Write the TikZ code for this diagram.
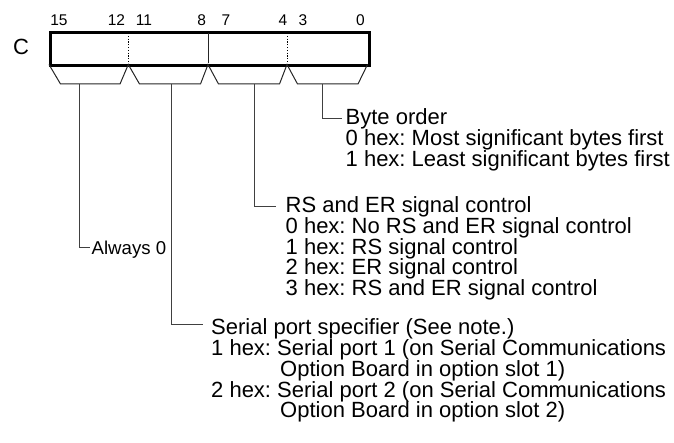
\documentclass[tikz,border=0pt]{standalone}
\usepackage{fontspec}
\setmainfont{Liberation Sans}
\frenchspacing
\begin{document}
\begin{tikzpicture}[x=1bp,y=-1bp,
  txt/.style={anchor=base west, inner sep=0pt, font=\fontsize{22bp}{20.7bp}\selectfont},
  small/.style={anchor=base west, inner sep=0pt, font=\fontsize{18.6bp}{20bp}\selectfont},
  bitnum/.style={anchor=base, inner sep=0pt, font=\fontsize{15.5bp}{16bp}\selectfont},
  regbox/.style={draw, line width=3bp, inner sep=0pt, minimum width=319bp, minimum height=33bp},
  thin/.style={line width=1bp, draw=black!85},
  dots/.style={line width=1bp, dash pattern=on 1.2bp off 1.6bp},
  lead/.style={line width=1bp, draw=black!75}]
\useasboundingbox (0,0) rectangle (674,443);

% register
\node[regbox, anchor=north west] (reg) at (48.5,31.5) {};
\node[anchor=base, inner sep=0pt, font=\fontsize{22bp}{22bp}\selectfont] (cname) at (21,55) {C};

% bit numbers
\node[bitnum] (n15) at (59,25.5) {15};
\node[bitnum] (n12) at (116.5,25.5) {12};
\node[bitnum] (n11) at (144,25.5) {11};
\node[bitnum] (n8) at (201.7,25.5) {8};
\node[bitnum] (n7) at (226,25.5) {7};
\node[bitnum] (n4) at (283,25.5) {4};
\node[bitnum] (n3) at (303,25.5) {3};
\node[bitnum] (n0) at (360.5,25.5) {0};

% dividers
\draw[dots] (128.3,33) -- (128.3,63);
\draw[thin] (208,33) -- (208,63);
\draw[dots] (287,33) -- (287,63);

% field brackets
\draw[thin] (49,64.5) -- (60.5,84) -- (120,84) -- (128.3,64.5)
  -- (139.5,84) -- (200.5,84) -- (208,64.5)
  -- (218.5,84) -- (279.5,84) -- (287,64.5)
  -- (297.5,84) -- (358,84) -- (367.5,64.5);

% stem tops
\coordinate (s1) at (79,84);
\coordinate (s2) at (171,84);
\coordinate (s3) at (254,84);
\coordinate (s4) at (322,84);
% leader ends
\coordinate (e1) at (90,248);
\coordinate (e2) at (203,324);
\coordinate (e3) at (276,207);
\coordinate (e4) at (342,119);

\draw[lead] (s1) |- (e1);
\draw[lead] (s2) |- (e2);
\draw[lead] (s3) |- (e3);
\draw[lead] (s4) |- (e4);

% Byte order
\node[txt] (b0) at (345.5,125) {Byte order};
\node[txt] (b1) at (345.5,145.7) {0 hex: Most significant bytes first};
\node[txt] (b2) at (345.5,166.4) {1 hex: Least significant bytes first};

% RS / ER
\node[txt] (r0) at (285.5,212.7) {RS and ER signal control};
\node[txt] (r1) at (285.5,233.4) {0 hex: No RS and ER signal control};
\node[txt] (r2) at (285.5,254.1) {1 hex: RS signal control};
\node[txt] (r3) at (285.5,274.8) {2 hex: ER signal control};
\node[txt] (r4) at (285.5,295.5) {3 hex: RS and ER signal control};

% Always 0
\node[small] (a0) at (91.5,255) {Always 0};

% Serial port
\node[txt] (p0) at (211,335) {Serial port specifier (See note.)};
\node[txt] (p1) at (211,355.7) {1 hex: Serial port 1 (on Serial Communications};
\node[txt] (p2) at (280,376.4) {Option Board in option slot 1)};
\node[txt] (p3) at (211,397.1) {2 hex: Serial port 2 (on Serial Communications};
\node[txt] (p4) at (280,417.8) {Option Board in option slot 2)};
\end{tikzpicture}
\end{document}
